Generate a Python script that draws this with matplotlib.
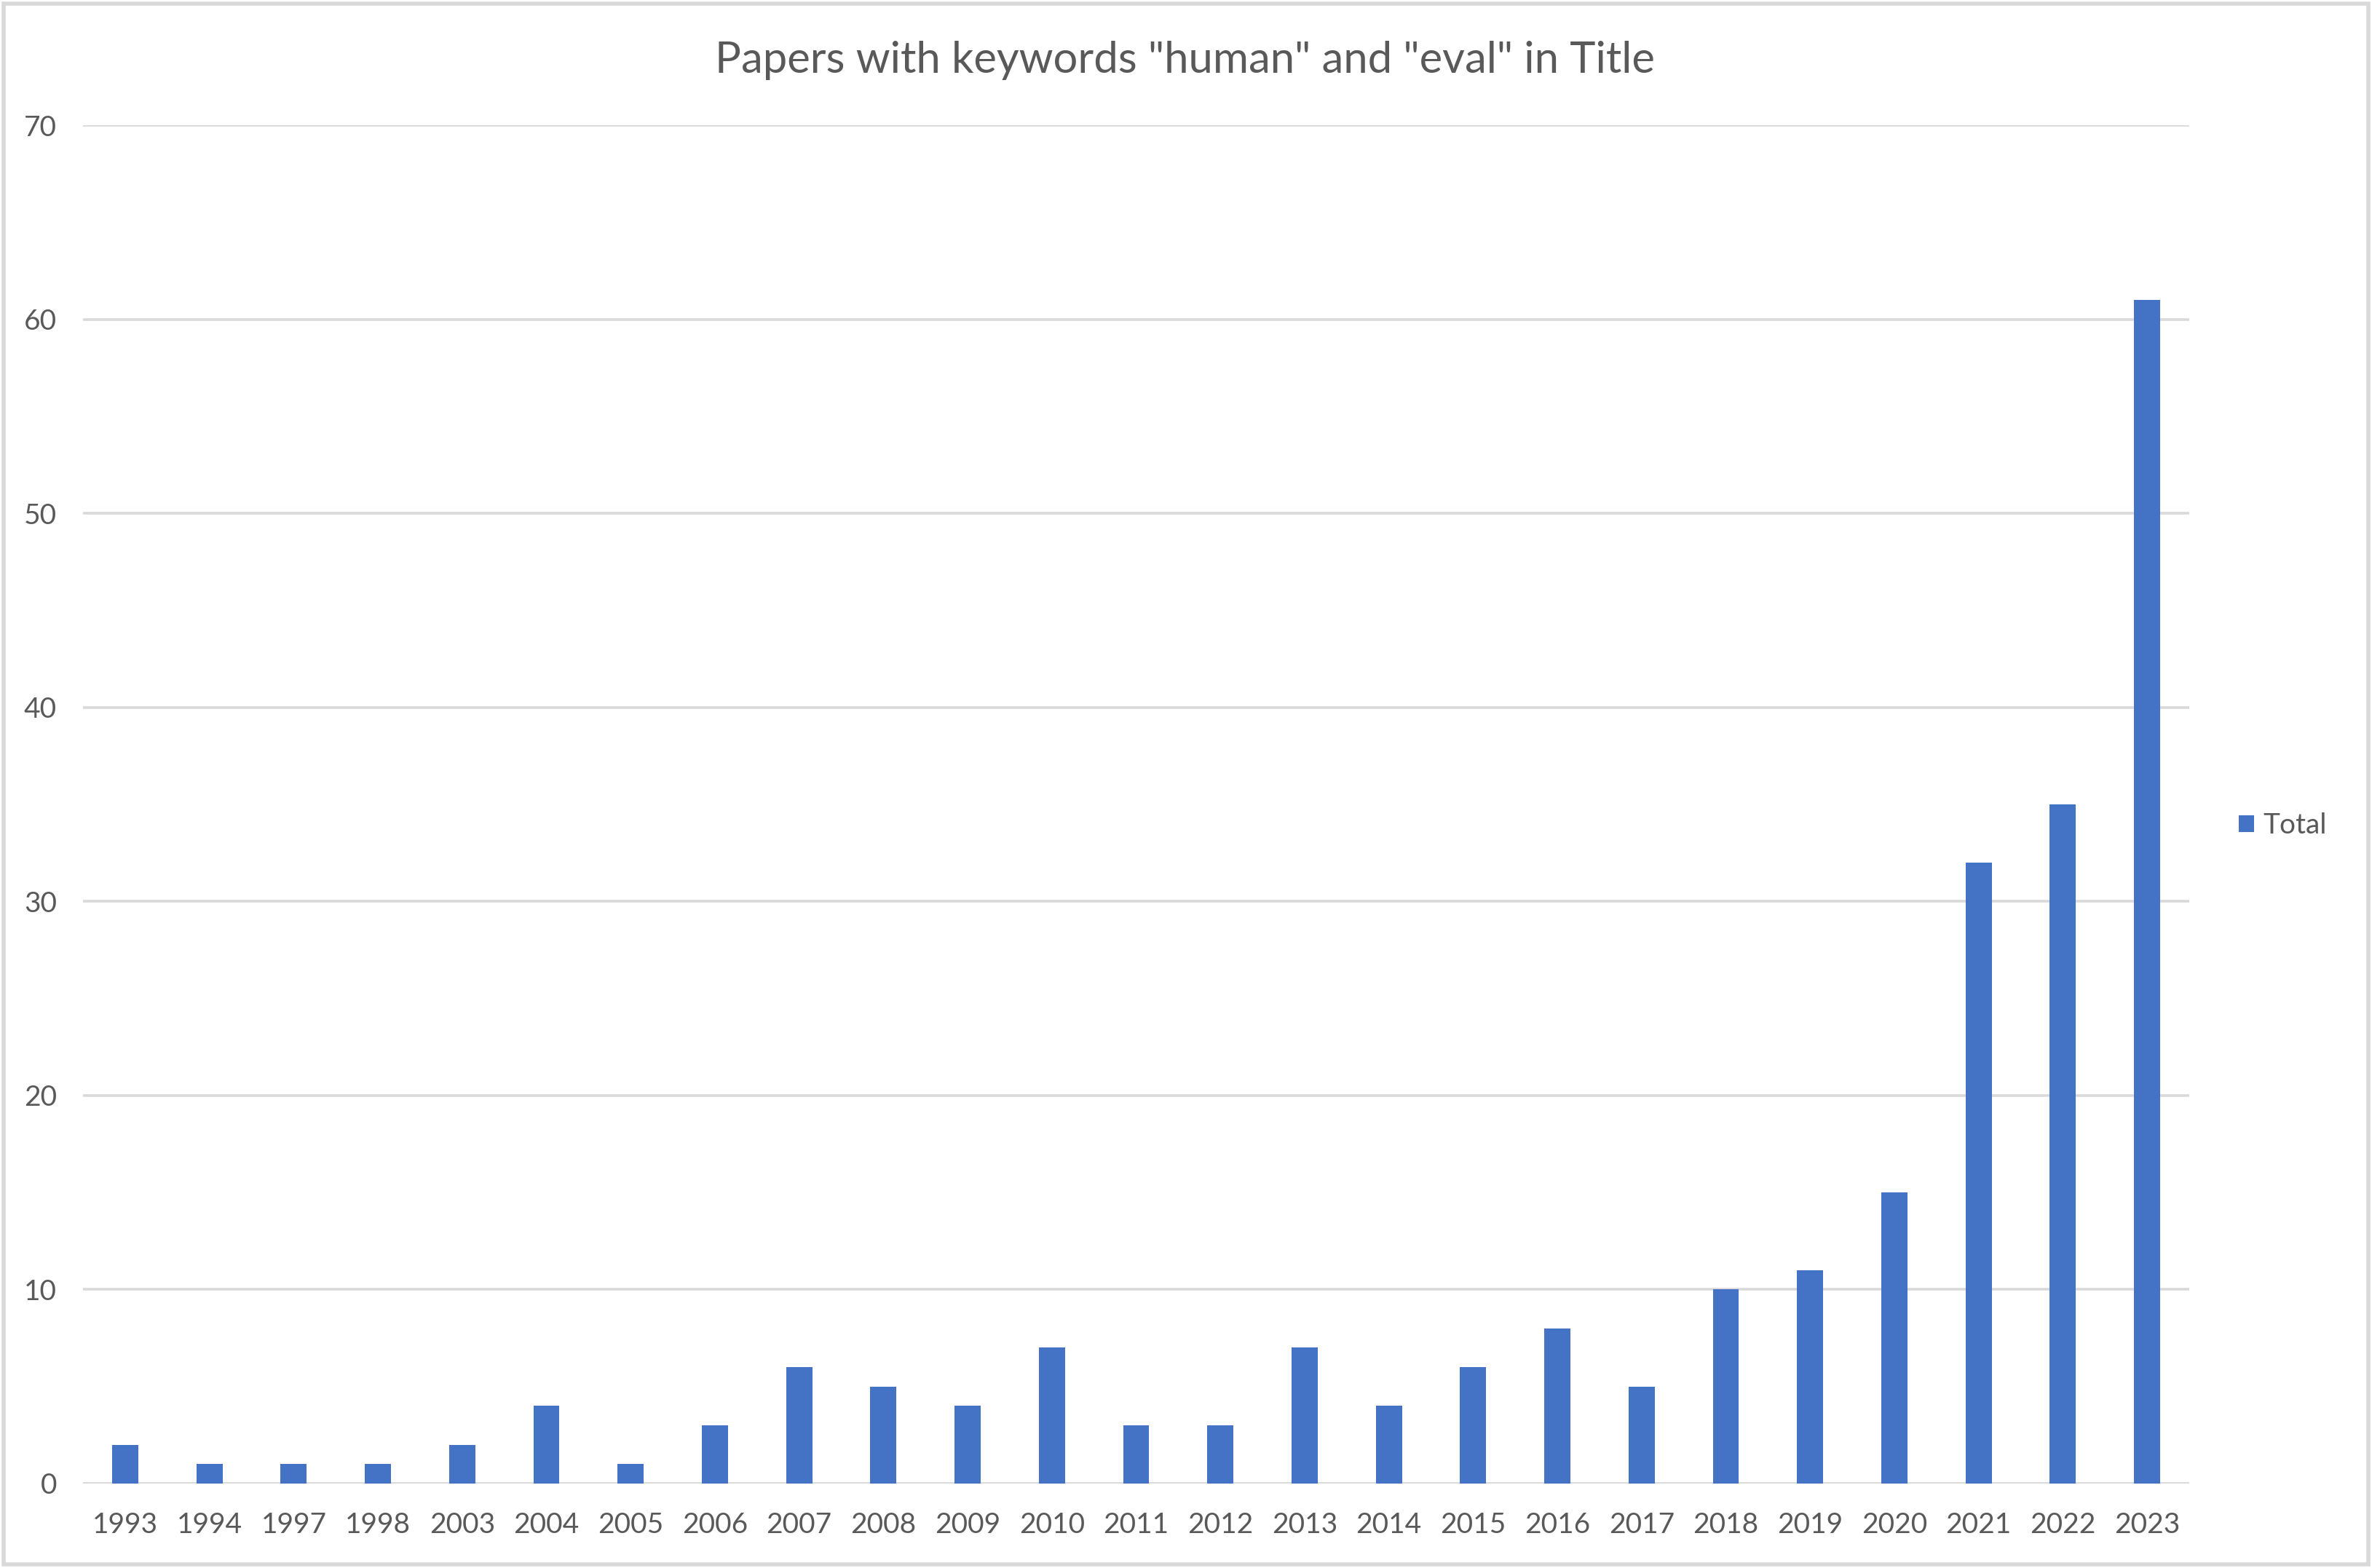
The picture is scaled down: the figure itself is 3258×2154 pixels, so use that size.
import matplotlib
matplotlib.use("Agg")
import matplotlib.pyplot as plt
from matplotlib.patches import Rectangle

years = ["1993", "1994", "1997", "1998", "2003", "2004", "2005", "2006", "2007",
         "2008", "2009", "2010", "2011", "2012", "2013", "2014", "2015", "2016",
         "2017", "2018", "2019", "2020", "2021", "2022", "2023"]
totals = [2, 1, 1, 1, 2, 4, 1, 3, 6, 5, 4, 7, 3, 3, 7, 4, 6, 8, 5, 10, 11, 15, 32, 35, 61]
yticks = [0, 10, 20, 30, 40, 50, 60, 70]
title = 'Papers with keywords "human" and "eval" in Title'

plt.rcParams['font.family'] = ['Lato', 'DejaVu Sans']
W, H, DPI = 3258, 2154, 200
fig = plt.figure(figsize=(W / DPI, H / DPI), dpi=DPI)
L, R, T, B = 114, 3007, 172, 2038
ax = fig.add_axes([L / W, 1 - B / H, (R - L) / W, (B - T) / H])

bar_color = "#4472C4"
txt = "#595959"
grid = "#D9D9D9"

x = list(range(len(years)))
ax.bar(x, totals, width=0.31, color=bar_color, zorder=3, label="Total")
ax.set_xlim(-0.5, len(years) - 0.5)
ax.set_ylim(0, 70)
ax.set_yticks(yticks)
ax.set_xticks(x)
ax.set_xticklabels(years)
ax.grid(axis="y", color=grid, linewidth=1.3, zorder=0)
for s in ax.spines.values():
    s.set_visible(False)
ax.axhline(0, color=grid, linewidth=1.3, zorder=1)
ax.tick_params(axis="both", length=0, labelsize=14, colors=txt)
ax.tick_params(axis="x", pad=14)
ax.tick_params(axis="y", pad=13)

fig.text(1627 / W, 1 - 83 / H, title, ha="center", va="center", fontsize=21.5, color=txt)

leg = ax.legend(loc="center left", bbox_to_anchor=(3040 / W, 1 - 1134 / H),
                bbox_transform=fig.transFigure, frameon=False, fontsize=14,
                handlelength=0.55, handleheight=0.55, handletextpad=0.3)
for t in leg.get_texts():
    t.set_color(txt)

fig.patches.append(Rectangle((5 / W, 5 / H), 1 - 10 / W, 1 - 10 / H, transform=fig.transFigure,
                             fill=False, edgecolor=grid, linewidth=2.0))

fig.savefig("out.png", dpi=DPI, facecolor="white")
